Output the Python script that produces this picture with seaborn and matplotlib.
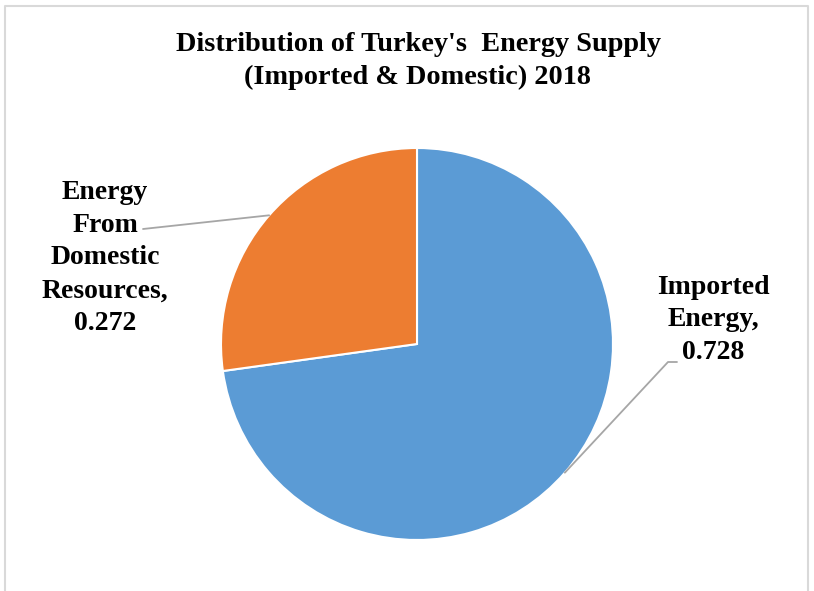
import numpy as np
import matplotlib
matplotlib.use("Agg")
import matplotlib.pyplot as plt
import seaborn as sns

# Energy supply shares, 2018
categories = ["Imported Energy", "Energy From Domestic Resources"]
label_lines = ["Imported\nEnergy,", "Energy\nFrom\nDomestic\nResources,"]
shares = [0.728, 0.272]
colors = ["#5B9BD5", "#ED7D31"]
title = "Distribution of Turkey's  Energy Supply\n(Imported & Domestic) 2018"

sns.set_theme(style="white")
plt.rcParams["font.family"] = ["Liberation Serif", "DejaVu Serif"]
plt.rcParams["text.color"] = "black"

W, H = 814, 591
fig = plt.figure(figsize=(W / 100, H / 100), dpi=100)
ax = fig.add_axes([0, 0, 1, 1])

# pixel-like coordinates: y measured upward from bottom
cx, cy, r = 417, H - 344, 196
wedges, _ = ax.pie(shares, colors=colors, startangle=90, counterclock=False,
                   center=(cx, cy), radius=r,
                   wedgeprops=dict(edgecolor="white", linewidth=1.5))
ax.set_xlim(0, W)
ax.set_ylim(0, H)
ax.set_aspect("equal")
ax.axis("off")

# chart border
ax.plot([5, 5, W - 6, W - 6], [-5, H - 6, H - 6, -5], color="#D9D9D9",
        lw=1.5, clip_on=False)

ax.text(418, H - 61, title, ha="center", va="center", fontsize=20.3,
        fontweight="bold", linespacing=1.38, color="black")

# data labels with leader lines
label_pos = [(713, H - 320), (105, H - 258)]
elbows = [[(668, H - 362), (677, H - 362)], [(143, H - 229)]]
for w, txt, val, pos, elb in zip(wedges, label_lines, shares, label_pos, elbows):
    mid = np.deg2rad((w.theta1 + w.theta2) / 2)
    p0 = (cx + r * np.cos(mid), cy + r * np.sin(mid))
    xs = [p0[0]] + [e[0] for e in elb]
    ys = [p0[1]] + [e[1] for e in elb]
    ax.plot(xs, ys, color="#A6A6A6", lw=1.3)
    ax.text(pos[0], pos[1], f"{txt}\n{val:.3f}", ha="center", va="center",
            fontsize=20, fontweight="bold", linespacing=1.41,
            multialignment="center", color="black")

fig.savefig("out.png", dpi=100, facecolor="white")
